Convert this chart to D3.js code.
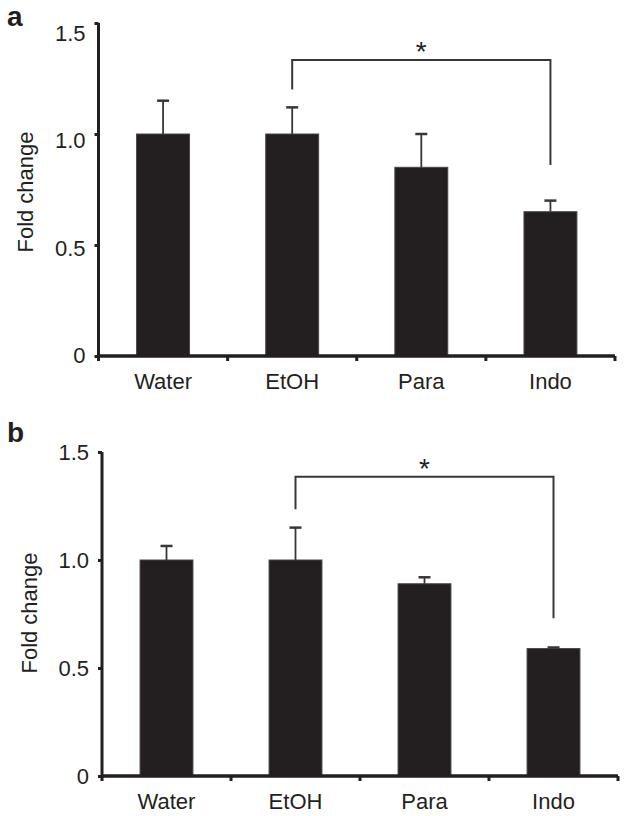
<!DOCTYPE html>
<html>
<head>
<meta charset="utf-8">
<script src="https://cdn.jsdelivr.net/npm/d3@7"></script>
<style>
  html, body { margin: 0; padding: 0; background: #fff; }
  svg { display: block; }
  text { font-family: "Liberation Sans", Arial, Helvetica, sans-serif; fill: #231f20; }
</style>
</head>
<body>
<svg id="chart" width="629" height="816"></svg>
<script>
// ---- data ----
const categories = ["Water", "EtOH", "Para", "Indo"];
const yTicks = [0, 0.5, 1.0, 1.5];

const meansA = [1.0, 1.0, 0.85, 0.65];
const errorsA = [0.15, 0.12, 0.15, 0.05];
const meansB = [1.0, 1.0, 0.89, 0.59];
const errorsB = [0.065, 0.15, 0.03, 0.005];

// significance brackets: [from, to, top, leftEnd, rightEnd]
const bracketA = ["EtOH", "Indo", 1.333, 1.2, 0.86];
const bracketB = ["EtOH", "Indo", 1.385, 1.235, 0.73];

const panelLabels = ["a", "b"];
const yTitle = "Fold change";

// ---- drawing ----
const svg = d3.select("#chart");
const ink = "#231f20";

function drawPanel(opt) {
  const g = svg.append("g");
  const x = d3.scaleBand()
    .domain(categories)
    .range([opt.x0, opt.x1])
    .paddingInner(0.59)
    .paddingOuter(0.295);
  const y = d3.scaleLinear().domain([0, 1.5]).range([opt.y0, opt.y1]);
  // tick labels in the original sit on a slightly different span than the ticks
  const yLab = d3.scaleLinear().domain([0, 1.5]).range(opt.labelRange);
  const step = x.step();
  const bw = x.bandwidth();
  const center = c => x(c) + bw / 2;

  // bars
  g.selectAll("rect.bar").data(opt.means).join("rect")
    .attr("class", "bar")
    .attr("x", (d, i) => x(categories[i]))
    .attr("width", bw)
    .attr("y", d => y(d))
    .attr("height", d => y(0) - y(d))
    .attr("fill", ink)
    .attr("stroke", "#4a4647")
    .attr("stroke-width", 1);

  // error bars (upper only)
  const eb = g.selectAll("g.err").data(opt.means).join("g").attr("class", "err");
  eb.append("line")
    .attr("x1", (d, i) => center(categories[i]))
    .attr("x2", (d, i) => center(categories[i]))
    .attr("y1", d => y(d))
    .attr("y2", (d, i) => y(d + opt.errors[i]))
    .attr("stroke", "#3a3637").attr("stroke-width", 1.8);
  eb.append("line")
    .attr("x1", (d, i) => center(categories[i]) - 6)
    .attr("x2", (d, i) => center(categories[i]) + 6)
    .attr("y1", (d, i) => y(d + opt.errors[i]))
    .attr("y2", (d, i) => y(d + opt.errors[i]))
    .attr("stroke", "#3a3637").attr("stroke-width", 2.5);

  // y axis
  const yAxis = d3.axisLeft(y)
    .tickValues(yTicks)
    .tickSize(4)
    .tickPadding(9)
    .tickFormat(d => d === 0 ? "0" : d3.format(".1f")(d));
  const ya = g.append("g").attr("transform", `translate(${opt.x0},0)`).call(yAxis);
  ya.select(".domain").attr("stroke", ink).attr("stroke-width", 3).attr("d", `M0,${opt.y0}V${opt.y1}`);
  ya.selectAll(".tick line").attr("stroke", ink).attr("stroke-width", 3);
  ya.selectAll(".tick text")
    .attr("font-size", 22)
    .attr("y", d => yLab(d) - y(d))
    .attr("dy", "0.35em")
    .attr("fill", ink);

  // x axis (labels at centers, ticks at band boundaries)
  const xAxis = d3.axisBottom(x).tickSize(0).tickPadding(17);
  const xa = g.append("g").attr("transform", `translate(0,${opt.y0})`).call(xAxis);
  xa.select(".domain").attr("stroke", ink).attr("stroke-width", 3.5)
    .attr("d", `M${opt.x0},0H${opt.x1}`);
  xa.selectAll(".tick text").attr("font-size", 22).attr("fill", ink);
  const bounds = d3.range(categories.length + 1).map(i => opt.x0 + i * step);
  xa.selectAll("line.bt").data(bounds).join("line")
    .attr("class", "bt")
    .attr("x1", d => d).attr("x2", d => d)
    .attr("y1", 0).attr("y2", 5)
    .attr("stroke", ink).attr("stroke-width", 3);

  // y title
  g.append("text")
    .attr("transform", `translate(${opt.titleX},${opt.titleY}) rotate(-90)`)
    .attr("text-anchor", "middle")
    .attr("font-size", 22)
    .text(yTitle);

  // panel label
  g.append("text")
    .attr("x", 7).attr("y", opt.labelY)
    .attr("font-size", 28).attr("font-weight", "bold")
    .text(opt.label);

  // significance bracket
  const [from, to, top, lEnd, rEnd] = opt.bracket;
  const bx1 = center(from), bx2 = center(to);
  g.append("path")
    .attr("d", `M${bx1},${y(lEnd)}V${y(top)}H${bx2}V${y(rEnd)}`)
    .attr("fill", "none")
    .attr("stroke", "#3a3637")
    .attr("stroke-width", 2);
  g.append("text")
    .attr("x", (bx1 + bx2) / 2)
    .attr("y", y(top) + 1)
    .attr("text-anchor", "middle")
    .attr("font-size", 28)
    .text("*");
}

drawPanel({
  x0: 98.5, x1: 615, y0: 356, y1: 23, labelRange: [355, 32.5],
  means: meansA, errors: errorsA, bracket: bracketA,
  label: panelLabels[0], labelY: 26, titleX: 33, titleY: 192
});
drawPanel({
  x0: 102, x1: 618, y0: 776, y1: 452, labelRange: [776, 452],
  means: meansB, errors: errorsB, bracket: bracketB,
  label: panelLabels[1], labelY: 442, titleX: 36.5, titleY: 613
});
</script>
</body>
</html>
